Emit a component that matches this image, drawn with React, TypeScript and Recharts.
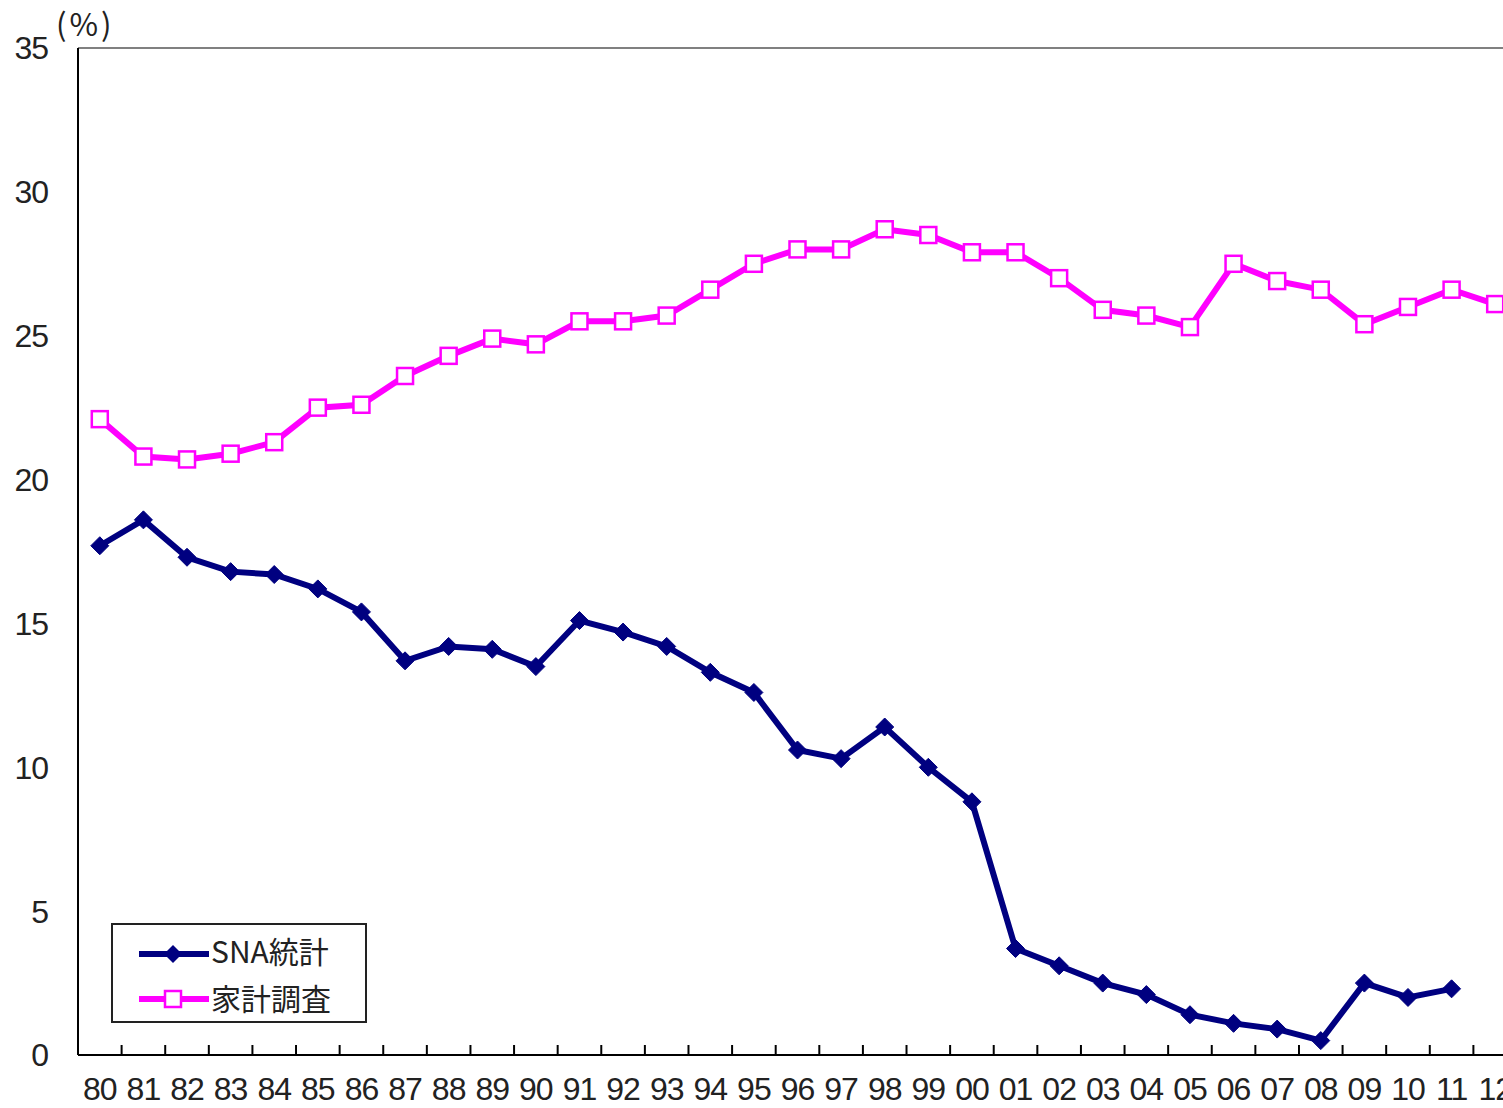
import React from "react";
import { LineChart, Line, XAxis, YAxis, ReferenceLine } from "recharts";

const years = [
  "80", "81", "82", "83", "84", "85", "86", "87", "88", "89",
  "90", "91", "92", "93", "94", "95", "96", "97", "98", "99",
  "00", "01", "02", "03", "04", "05", "06", "07", "08", "09",
  "10", "11", "12",
];

// SNA統計 (no value for 12)
const snaRate = [
  17.7, 18.6, 17.3, 16.8, 16.7, 16.2, 15.4, 13.7, 14.2, 14.1,
  13.5, 15.1, 14.7, 14.2, 13.3, 12.6, 10.6, 10.3, 11.4, 10.0,
  8.8, 3.7, 3.1, 2.5, 2.1, 1.4, 1.1, 0.9, 0.5, 2.5,
  2.0, 2.3, null,
];

// 家計調査
const surveyRate = [
  22.1, 20.8, 20.7, 20.9, 21.3, 22.5, 22.6, 23.6, 24.3, 24.9,
  24.7, 25.5, 25.5, 25.7, 26.6, 27.5, 28.0, 28.0, 28.7, 28.5,
  27.9, 27.9, 27.0, 25.9, 25.7, 25.3, 27.5, 26.9, 26.6, 25.4,
  26.0, 26.6, 26.1,
];

const yTicks = [0, 5, 10, 15, 20, 25, 30, 35];

const data = years.map((year, i) => ({
  year,
  sna: snaRate[i],
  survey: surveyRate[i],
}));

const FONT = "'Noto Sans CJK JP', 'Noto Sans', sans-serif";
const NUM_FONT = "'Liberation Sans', Arial, sans-serif";
const NAVY = "#000080";
const MAGENTA = "#FF00FF";

const CHART_W = 1540;
const CHART_H = 1108;
const MARGIN = { top: 48, right: 23, bottom: 0, left: 0 };
const Y_AXIS_W = 78;
const X_AXIS_H = 53;
const BAND = (CHART_W - MARGIN.left - MARGIN.right - Y_AXIS_W) / years.length;

const Diamond = (props: any) => {
  const { cx, cy, value } = props;
  if (cx == null || cy == null || value == null) return null;
  const r = 9;
  return (
    <path
      d={`M${cx},${cy - r}L${cx + r},${cy}L${cx},${cy + r}L${cx - r},${cy}Z`}
      fill={NAVY}
      stroke={NAVY}
      strokeWidth={1}
    />
  );
};

const Square = (props: any) => {
  const { cx, cy } = props;
  if (cx == null || cy == null) return null;
  const s = 16;
  return (
    <rect
      x={cx - s / 2}
      y={cy - s / 2}
      width={s}
      height={s}
      fill="#fff"
      stroke={MAGENTA}
      strokeWidth={2.5}
    />
  );
};

// label centred in each band, tick mark on the band boundary pointing up
const YearTick = (props: any) => {
  const { x, y, payload } = props;
  const axisY = y - 2;
  return (
    <g>
      <line
        x1={x + BAND / 2}
        x2={x + BAND / 2}
        y1={axisY}
        y2={axisY - 10}
        stroke="#000"
        strokeWidth={2}
      />
      <text
        x={x}
        y={axisY + 45}
        textAnchor="middle"
        fontFamily={NUM_FONT}
        fontSize={32}
        letterSpacing={-1}
        fill="#222"
      >
        {payload.value}
      </text>
    </g>
  );
};

const LegendBox = () => (
  <div
    style={{
      position: "absolute",
      left: 111,
      top: 923,
      width: 252,
      height: 96,
      border: "2px solid #222",
      background: "#fff",
      fontFamily: FONT,
      fontSize: 30,
      color: "#222",
    }}
  >
    <div style={{ display: "flex", alignItems: "center", height: 48, marginTop: 1 }}>
      <svg width={74} height={40} style={{ marginLeft: 24 }}>
        <line x1={2} x2={72} y1={24} y2={24} stroke={NAVY} strokeWidth={6} />
        <path d="M36,15L45,24L36,33L27,24Z" fill={NAVY} />
      </svg>
      <span>SNA統計</span>
    </div>
    <div style={{ display: "flex", alignItems: "center", height: 46 }}>
      <svg width={74} height={40} style={{ marginLeft: 24 }}>
        <line x1={2} x2={72} y1={22} y2={22} stroke={MAGENTA} strokeWidth={6} />
        <rect x={28} y={14} width={16} height={16} fill="#fff" stroke={MAGENTA} strokeWidth={2.5} />
      </svg>
      <span>家計調査</span>
    </div>
  </div>
);

export default function App() {
  return (
    <div
      style={{
        position: "absolute",
        left: 0,
        top: 0,
        width: 1503,
        height: 1108,
        overflow: "hidden",
        background: "#fff",
      }}
    >
      <div
        style={{
          position: "absolute",
          left: 56,
          top: 0,
          fontFamily: FONT,
          fontSize: 31,
          letterSpacing: 3,
          color: "#222",
        }}
      >
        (%)
      </div>
      <LineChart width={CHART_W} height={CHART_H} data={data} margin={MARGIN}>
        <XAxis
          dataKey="year"
          height={X_AXIS_H}
          interval={0}
          padding={{ left: BAND / 2, right: BAND / 2 }}
          tick={<YearTick />}
          tickLine={false}
          tickSize={0}
          tickMargin={2}
          axisLine={{ stroke: "#000", strokeWidth: 2 }}
        />
        <YAxis
          width={Y_AXIS_W}
          domain={[0, 35]}
          ticks={yTicks}
          interval={0}
          tickLine={false}
          tickSize={0}
          tickMargin={30}
          axisLine={{ stroke: "#000", strokeWidth: 2 }}
          tick={{ fontFamily: NUM_FONT, fontSize: 32, letterSpacing: -1, fill: "#222" }}
        />
        <ReferenceLine y={35} stroke="#808080" strokeWidth={2} />
        <Line
          type="linear"
          dataKey="sna"
          stroke={NAVY}
          strokeWidth={6}
          dot={<Diamond />}
          activeDot={false}
          isAnimationActive={false}
          connectNulls={false}
        />
        <Line
          type="linear"
          dataKey="survey"
          stroke={MAGENTA}
          strokeWidth={6}
          dot={<Square />}
          activeDot={false}
          isAnimationActive={false}
        />
      </LineChart>
      <LegendBox />
    </div>
  );
}
